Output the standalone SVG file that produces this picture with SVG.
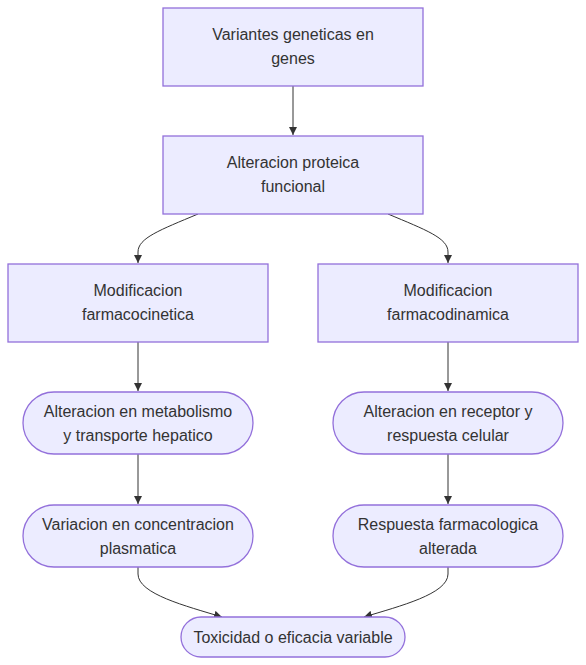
<svg xmlns="http://www.w3.org/2000/svg" width="586" height="665" viewBox="0 0 586 665">
<defs>
<style>
.n{fill:#ECECFF;stroke:#9370DB;stroke-width:1.3}
.t{font-family:"Liberation Sans",Arial,sans-serif;font-size:16px;fill:#333333;text-anchor:middle}
.e{fill:none;stroke:#333333;stroke-width:1}
</style>
<marker id="ah" viewBox="0 0 10 10" refX="10" refY="5" markerWidth="8" markerHeight="8" markerUnits="userSpaceOnUse" orient="auto">
<path d="M0,0 L10,5 L0,10 z" fill="#333333"/>
</marker>
</defs>
<rect width="586" height="665" fill="#ffffff"/>
<g id="connectors">
<path class="e" d="M293,86 L293,135" marker-end="url(#ah)"/>
<path class="e" d="M198,214 C160,230 138,238 138,252 L138,263" marker-end="url(#ah)"/>
<path class="e" d="M388,214 C426,230 448,238 448,252 L448,263" marker-end="url(#ah)"/>
<path class="e" d="M138,342 L138,391" marker-end="url(#ah)"/>
<path class="e" d="M448,342 L448,391" marker-end="url(#ah)"/>
<path class="e" d="M138,454 L138,504" marker-end="url(#ah)"/>
<path class="e" d="M448,454 L448,504" marker-end="url(#ah)"/>
<path class="e" d="M138,567 L138,574 C138,594 186,606 222,617" marker-end="url(#ah)"/>
<path class="e" d="M448,567 L448,574 C448,594 400,606 364,617" marker-end="url(#ah)"/>
</g>
<g id="n1"><rect class="n" x="163" y="8" width="260" height="78"/>
<text class="t" x="293" y="40">Variantes geneticas en</text><text class="t" x="293" y="64">genes</text></g>
<g id="n2"><rect class="n" x="163" y="136" width="260" height="78"/>
<text class="t" x="293" y="168">Alteracion proteica</text><text class="t" x="293" y="192">funcional</text></g>
<g id="n3"><rect class="n" x="8" y="264" width="260" height="78"/>
<text class="t" x="138" y="296">Modificacion</text><text class="t" x="138" y="320">farmacocinetica</text></g>
<g id="n4"><rect class="n" x="318" y="264" width="260" height="78"/>
<text class="t" x="448" y="296">Modificacion</text><text class="t" x="448" y="320">farmacodinamica</text></g>
<g id="n5"><rect class="n" x="23" y="392" width="230" height="62" rx="31" ry="31"/>
<text class="t" x="138" y="417">Alteracion en metabolismo</text><text class="t" x="138" y="441">y transporte hepatico</text></g>
<g id="n6"><rect class="n" x="333" y="392" width="230" height="62" rx="31" ry="31"/>
<text class="t" x="448" y="417">Alteracion en receptor y</text><text class="t" x="448" y="441">respuesta celular</text></g>
<g id="n7"><rect class="n" x="23" y="505" width="230" height="62" rx="31" ry="31"/>
<text class="t" x="138" y="530">Variacion en concentracion</text><text class="t" x="138" y="554">plasmatica</text></g>
<g id="n8"><rect class="n" x="333" y="505" width="230" height="62" rx="31" ry="31"/>
<text class="t" x="448" y="530">Respuesta farmacologica</text><text class="t" x="448" y="554">alterada</text></g>
<g id="n9"><rect class="n" x="181" y="617" width="224" height="40" rx="20" ry="20"/>
<text class="t" x="293" y="643">Toxicidad o eficacia variable</text></g>
</svg>
